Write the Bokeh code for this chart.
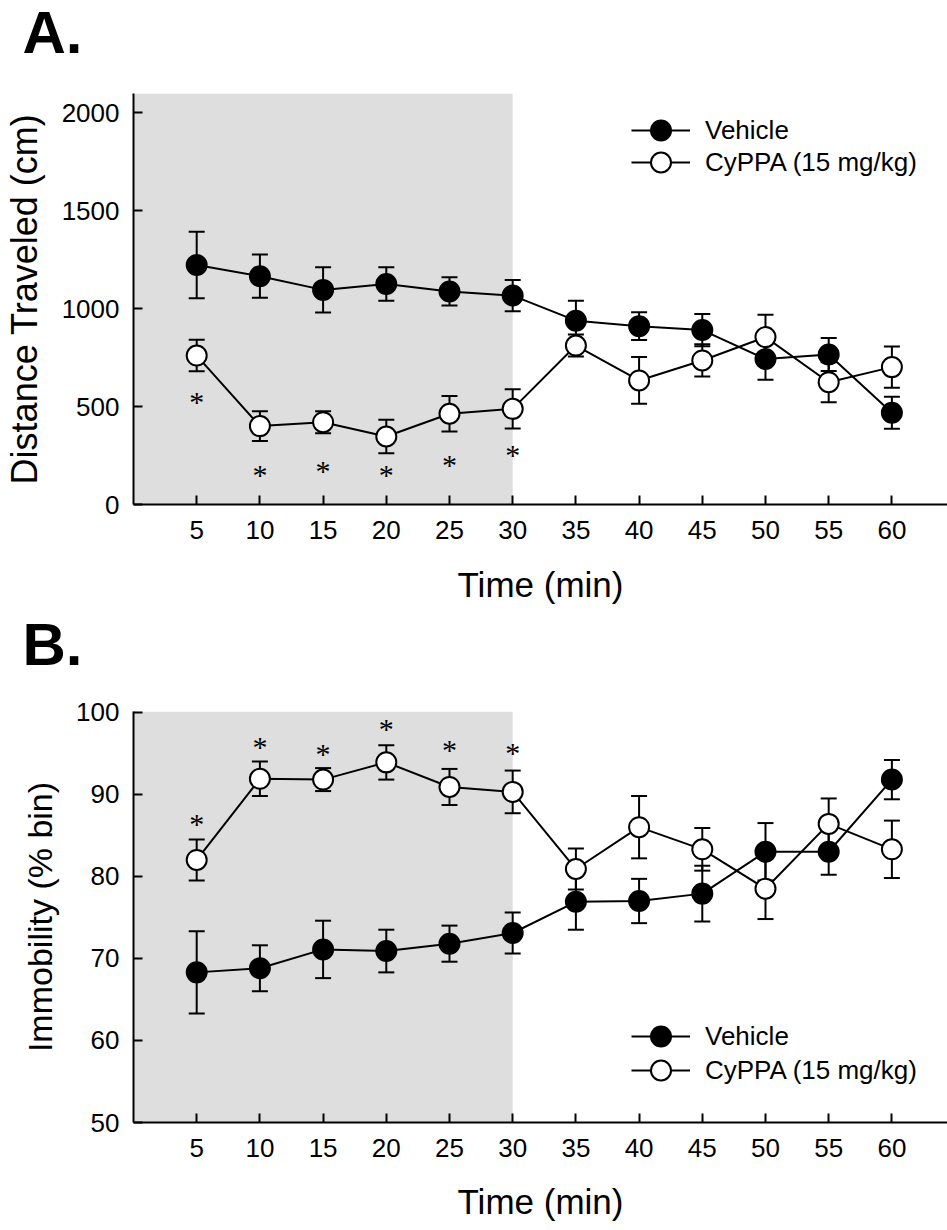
from bokeh.plotting import figure
from bokeh.models import (Range1d, FixedTicker, BoxAnnotation, Legend, Label,
                          LegendItem, ColumnDataSource)
from bokeh.layouts import column
from bokeh.embed import file_html
from bokeh.resources import INLINE
from bokeh.core.properties import value

# ---------------- data ----------------
time_min = [5, 10, 15, 20, 25, 30, 35, 40, 45, 50, 55, 60]
treatment_end = 30

dist_vehicle = [1222, 1165, 1095, 1125, 1087, 1066, 938, 910, 890, 742, 765, 468]
dist_vehicle_sem = [170, 110, 116, 86, 72, 80, 102, 71, 82, 106, 84, 82]
dist_cyppa = [760, 400, 420, 347, 463, 488, 811, 633, 735, 854, 624, 701]
dist_cyppa_sem = [80, 76, 56, 85, 90, 100, 56, 119, 82, 114, 102, 105]
dist_sig_time = [5, 10, 15, 20, 25, 30]
dist_sig_y = [547, 173, 194, 173, 224, 276]
dist_ticks = [0, 500, 1000, 1500, 2000]

imm_vehicle = [68.3, 68.8, 71.1, 70.9, 71.8, 73.1, 76.9, 77.0, 77.9, 83.0, 83.0, 91.8]
imm_vehicle_sem = [5.0, 2.8, 3.5, 2.6, 2.2, 2.5, 3.4, 2.7, 3.4, 3.5, 2.8, 2.4]
imm_cyppa = [82.0, 91.9, 91.8, 93.9, 90.9, 90.3, 80.9, 86.0, 83.3, 78.5, 86.4, 83.3]
imm_cyppa_sem = [2.5, 2.1, 1.4, 2.1, 2.2, 2.6, 2.5, 3.8, 2.6, 3.7, 3.1, 3.5]
imm_sig_time = [5, 10, 15, 20, 25, 30]
imm_sig_y = [86.9, 96.3, 95.5, 98.5, 95.9, 95.6]
imm_ticks = [50, 60, 70, 80, 90, 100]

series_labels = ["Vehicle", "CyPPA (15 mg/kg)"]

FONT = "Liberation Sans"


def make_panel(letter, letter_y, ylabel, ylabel_size, yticks, yrange,
               veh, veh_sem, cyp, cyp_sem, sig_t, sig_y, legend_y,
               height, border_top, border_bottom, xlabel_standoff):
    p = figure(width=947, height=height, output_backend="svg", toolbar_location=None,
               x_range=Range1d(0, 64.4), y_range=Range1d(*yrange),
               min_border_left=130, min_border_right=0,
               min_border_top=border_top, min_border_bottom=border_bottom)
    p.outline_line_color = None
    p.xgrid.visible = False
    p.ygrid.visible = False
    p.background_fill_color = "white"
    p.border_fill_color = "white"

    p.add_layout(BoxAnnotation(left=0, right=treatment_end, fill_color="#dedede",
                               fill_alpha=1, line_color=None, level="underlay"))

    srcs = []
    for mean, sem in ((veh, veh_sem), (cyp, cyp_sem)):
        srcs.append(ColumnDataSource(dict(
            x=time_min, y=mean,
            upper=[m + s for m, s in zip(mean, sem)],
            lower=[m - s for m, s in zip(mean, sem)])))

    for s in srcs:
        p.segment(x0="x", y0="lower", x1="x", y1="upper", source=s,
                  line_color="black", line_width=2)
        p.scatter(x="x", y="upper", source=s, marker="dash", size=16,
                  line_color="black", line_width=2)
        p.scatter(x="x", y="lower", source=s, marker="dash", size=16,
                  line_color="black", line_width=2)

    lines = [p.line(x="x", y="y", source=s, line_color="black", line_width=2)
             for s in srcs]
    mk_c = p.scatter(x="x", y="y", source=srcs[1], marker="circle", size=20,
                     fill_color="white", line_color="black", line_width=2)
    mk_v = p.scatter(x="x", y="y", source=srcs[0], marker="circle", size=20,
                     fill_color="black", line_color="black", line_width=2)

    p.text(x=sig_t, y=sig_y, text=["*"] * len(sig_t),
           text_font=value("Liberation Serif"), text_font_size="30px",
           text_align="center", text_baseline="middle", text_color="black",
           y_offset=4)

    # legend: one Legend per row so the row spacing can be tight
    for lab, rends, vy in ((series_labels[0], [lines[0], mk_v], legend_y[0]),
                           (series_labels[1], [lines[1], mk_c], legend_y[1])):
        lg = Legend(items=[LegendItem(label=lab, renderers=rends)],
                    location=(498, vy), glyph_width=59, glyph_height=50,
                    label_standoff=15, padding=0, margin=0, spacing=0,
                    background_fill_alpha=0, border_line_alpha=0,
                    label_text_font=FONT, label_text_font_size="26px",
                    label_text_color="black")
        p.add_layout(lg)

    for ax in (p.xaxis[0], p.yaxis[0]):
        ax.axis_line_width = 2
        ax.axis_line_color = "black"
        ax.major_tick_line_width = 2
        ax.major_tick_line_color = "black"
        ax.major_tick_in = 9
        ax.major_tick_out = 0
        ax.minor_tick_in = 0
        ax.minor_tick_out = 0
        ax.major_label_text_font = FONT
        ax.major_label_text_font_size = "26px"
        ax.major_label_text_color = "black"
        ax.axis_label_text_font = FONT
        ax.axis_label_text_font_style = "normal"
        ax.axis_label_text_color = "black"

    p.xaxis.ticker = FixedTicker(ticks=time_min)
    p.xaxis.major_label_standoff = 16
    p.xaxis.axis_label = "Time (min)"
    p.xaxis.axis_label_text_font_size = "35px"
    p.xaxis.axis_label_standoff = xlabel_standoff
    p.yaxis.ticker = FixedTicker(ticks=yticks)
    p.yaxis.major_label_standoff = 14
    p.yaxis.axis_label = ylabel
    p.yaxis.axis_label_text_font_size = ylabel_size
    p.yaxis.axis_label_standoff = 14

    # panel letter, placed in the top side panel (outside the frame)
    p.add_layout(Label(x=-111, y=letter_y, x_units="screen", y_units="screen",
                       text=letter, text_font=FONT, text_font_size="60px",
                       text_font_style="bold", text_color="black",
                       text_baseline="alphabetic"), "above")
    return p


pA = make_panel("A.", 61, "Distance Traveled (cm)", "36px", dist_ticks, (0, 2097),
                dist_vehicle, dist_vehicle_sem, dist_cyppa, dist_cyppa_sem,
                dist_sig_time, dist_sig_y, (349, 317), 612, 93, 108, 23)
pB = make_panel("B.", 67, "Immobility (% bin)", "34px", imm_ticks, (50, 100.1),
                imm_vehicle, imm_vehicle_sem, imm_cyppa, imm_cyppa_sem,
                imm_sig_time, imm_sig_y, (61, 27), 618, 99, 108, 22)

layout = column(pA, pB, spacing=0)
open("out.html", "w").write(file_html(layout, INLINE))
